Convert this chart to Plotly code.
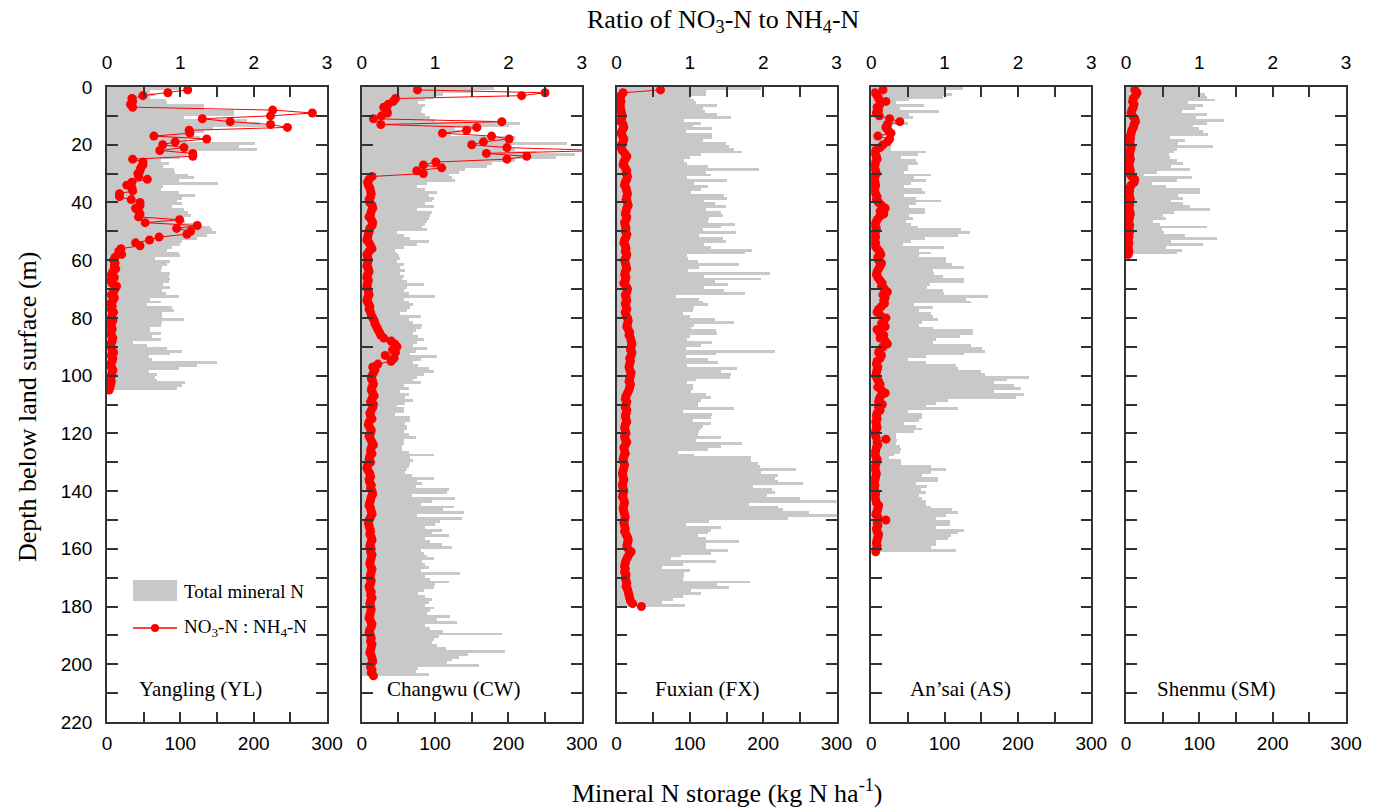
import numpy as np
import plotly.graph_objects as go

# ---------------- data ----------------
site_names = ["Yangling (YL)", "Changwu (CW)", "Fuxian (FX)", "An\u2019sai (AS)", "Shenmu (SM)"]

# Total mineral N storage per 1-m layer (kg N ha-1), layer 0 = 0-1 m
yl_storage = [98,59,66,59,80,82,132,132,173,173,
              105,191,209,218,145,132,114,127,109,202,
              180,205,120,109,100,73,84,77,91,93,
              111,118,98,152,77,73,98,120,102,95,
              102,89,105,111,114,100,107,118,141,143,
              148,136,123,102,100,89,82,98,100,66,
              86,82,75,73,86,84,86,84,77,86,
              75,80,98,59,73,55,89,91,75,75,
              105,75,73,59,59,73,61,73,36,55,
              82,102,86,57,61,150,123,98,57,68,
              66,68,107,102,95]

cw_storage = [180,150,111,98,86,77,86,82,80,86,
              93,100,216,200,127,141,121,209,205,280,
              205,209,239,290,264,209,177,170,141,132,
              118,123,127,89,75,86,102,91,98,95,
              86,98,75,95,93,91,89,86,82,89,
              48,57,66,91,75,57,45,48,50,52,
              48,57,52,59,52,57,55,61,84,61,
              57,64,100,57,64,70,66,61,52,80,
              64,70,82,80,73,70,77,84,75,70,
              89,73,66,102,80,70,77,91,98,84,
              75,70,80,57,64,52,64,59,70,59,
              48,57,57,45,66,66,59,61,61,57,
              64,73,57,57,55,55,64,98,66,70,
              66,64,61,59,68,98,75,82,73,118,
              116,68,127,95,80,125,111,139,75,136,
              107,100,86,109,95,118,86,93,109,123,
              80,84,89,98,82,86,91,80,134,86,
              93,118,100,98,84,77,86,95,91,86,
              98,93,89,120,102,130,86,93,111,191,
              105,98,95,102,114,195,145,132,123,116,
              159,77,73,91]

fx_storage = [196,121,121,101,105,108,137,117,120,137,
              155,92,115,103,130,94,130,130,117,149,
              153,160,171,115,100,92,96,124,194,121,
              128,96,150,105,124,115,101,146,150,119,
              133,149,121,142,144,126,124,161,142,117,
              162,112,144,149,119,128,184,174,96,97,
              110,167,112,97,208,119,196,133,151,119,
              146,174,80,112,117,124,105,104,90,100,
              133,159,105,101,135,136,99,96,130,115,
              94,215,135,94,124,138,95,164,142,155,
              154,108,96,104,104,101,121,128,115,110,
              110,160,90,130,128,103,128,117,115,112,
              110,142,108,171,142,124,83,105,183,183,
              192,195,244,196,219,215,219,253,185,212,
              215,205,249,300,180,219,226,262,300,233,
              126,94,142,128,124,110,121,167,121,121,
              151,128,87,74,135,90,62,99,92,92,
              90,182,137,153,101,115,90,76,62,93]

as_storage = [125,100,110,98,52,34,72,39,93,52,
              57,43,50,30,23,27,27,18,16,16,
              27,27,75,64,41,61,64,50,50,45,
              82,59,75,55,45,70,73,45,61,95,
              61,52,73,73,52,57,48,55,64,123,
              135,118,73,55,43,100,66,82,66,102,
              102,110,127,84,86,98,127,127,80,77,
              98,100,160,130,136,59,85,65,82,84,
              92,70,66,85,139,139,122,89,84,136,
              152,155,127,75,50,75,116,118,150,155,
              216,186,168,195,205,168,209,198,105,89,
              75,118,50,70,70,66,45,61,70,59,
              34,34,36,34,39,41,39,32,25,41,
              41,82,102,82,70,91,91,61,77,68,
              75,66,70,75,75,82,111,119,102,89,
              108,108,89,127,118,109,105,89,89,82,
              116]

sm_storage = [101,101,108,110,121,85,105,94,76,110,
              96,133,110,92,99,105,112,60,80,71,
              119,69,65,58,60,70,78,62,87,42,
              24,90,70,35,55,101,101,71,78,62,
              78,87,115,65,51,55,37,46,110,49,
              52,80,124,62,105,55,76,70]

# NO3-N : NH4-N ratio, one value per metre starting at 1 m depth
yl_ratio = [1.10,0.83,0.49,0.34,0.35,0.32,0.35,2.26,2.80,2.23,
            1.30,1.68,2.23,2.46,1.12,1.13,0.64,1.36,0.93,0.76,
            1.05,0.72,1.17,1.17,
            0.35,0.49,0.49,0.46,0.45,0.42,0.43,0.55,0.34,0.27,
            0.34,0.35,0.17,0.17,0.33,0.45,0.45,0.39,0.43,0.45,
            0.43,0.99,0.52,1.23,0.95,1.14,1.09,0.71,0.58,0.39,
            0.45,0.19,0.16,0.20,0.11,0.09,0.11,0.10,
            0.12,0.08,0.06,0.10,0.05,0.07,0.13,0.11,0.09,0.06,
            0.10,0.08,0.05,0.07,0.06,0.09,0.07,0.06,0.08,0.05,
            0.06,0.07,0.05,0.06,0.08,0.07,0.05,0.06,0.07,0.09,
            0.06,0.08,0.07,0.05,0.06,0.08,0.07,0.06,0.05,0.06,
            0.05,0.04,0.03]

cw_ratio = [0.76,2.50,2.18,0.46,0.43,0.36,0.30,0.34,0.35,0.27,
            0.16,1.91,0.26,1.57,1.43,1.10,1.77,2.01,1.66,1.50,
            1.98,3.30,1.70,2.25,1.98,1.01,0.84,1.09,0.75,0.84,
            0.14,
            0.10,0.08,0.09,0.11,0.12,0.13,0.12,0.10,0.11,
            0.14,0.15,0.13,0.12,0.10,0.13,0.15,0.14,0.11,0.10,
            0.09,0.08,0.07,0.10,0.12,0.14,0.10,0.07,0.08,0.09,
            0.08,0.07,0.09,0.10,0.08,0.07,0.09,0.08,0.07,0.08,
            0.09,0.10,0.08,0.07,0.09,0.11,0.10,0.12,0.13,0.15,
            0.17,0.18,0.20,0.22,0.24,0.26,0.30,0.40,0.45,0.48,
            0.42,0.46,0.32,0.44,0.40,0.22,0.15,0.18,0.16,0.14,
            0.13,0.15,0.16,0.14,0.13,0.15,0.17,0.14,0.12,0.16,
            0.15,0.13,0.11,0.12,0.14,0.10,0.09,0.11,0.13,0.12,
            0.10,0.12,0.14,0.16,0.13,0.12,0.14,0.11,0.10,0.12,
            0.08,0.07,0.09,0.11,0.12,0.10,0.11,0.13,0.12,0.14,
            0.15,0.13,0.12,0.11,0.10,0.12,0.13,0.14,0.12,0.10,
            0.09,0.10,0.11,0.12,0.11,0.13,0.14,0.12,0.11,0.13,
            0.12,0.14,0.13,0.12,0.11,0.12,0.14,0.13,0.12,0.11,
            0.13,0.12,0.10,0.11,0.13,0.12,0.14,0.12,0.11,0.12,
            0.13,0.12,0.11,0.10,0.12,0.14,0.13,0.11,0.10,0.12,
            0.13,0.12,0.14,0.13,0.12,0.11,0.13,0.14,0.15,0.13,
            0.12,0.14,0.13,0.16]

fx_ratio = [0.60,0.09,0.06,0.05,0.06,0.05,0.05,0.06,0.07,0.08,
            0.07,0.06,0.09,0.10,0.08,0.06,0.08,0.10,0.09,0.07,
            0.06,0.08,0.11,0.14,0.12,0.10,0.09,0.12,0.14,0.13,
            0.15,0.14,0.12,0.11,0.13,0.14,0.15,0.14,0.13,0.15,
            0.16,0.14,0.13,0.12,0.14,0.13,0.11,0.12,0.13,0.12,
            0.14,0.13,0.11,0.10,0.12,0.13,0.12,0.14,0.13,0.11,
            0.12,0.13,0.14,0.12,0.11,0.13,0.12,0.10,0.13,0.15,
            0.14,0.12,0.13,0.14,0.12,0.13,0.14,0.12,0.13,0.15,
            0.16,0.15,0.14,0.16,0.18,0.17,0.19,0.20,0.21,0.20,
            0.19,0.21,0.20,0.18,0.19,0.18,0.17,0.18,0.20,0.19,
            0.18,0.17,0.19,0.18,0.17,0.15,0.13,0.12,0.14,0.13,
            0.12,0.14,0.13,0.12,0.13,0.14,0.12,0.11,0.12,0.13,
            0.11,0.12,0.14,0.12,0.10,0.11,0.12,0.10,0.09,0.10,
            0.11,0.10,0.09,0.08,0.09,0.10,0.09,0.08,0.09,0.10,
            0.09,0.08,0.10,0.11,0.10,0.09,0.10,0.11,0.12,0.11,
            0.10,0.11,0.12,0.11,0.13,0.15,0.16,0.15,0.14,0.16,
            0.20,0.17,0.15,0.13,0.12,0.11,0.12,0.11,0.13,0.12,
            0.13,0.14,0.13,0.15,0.16,0.17,0.18,0.19,0.22,0.34]

as_ratio = [0.16,0.05,0.08,0.10,0.20,0.12,0.08,0.10,0.07,0.11,
            0.25,0.39,0.22,0.20,0.23,0.27,0.09,0.25,0.22,0.16,
            0.12,0.06,0.05,0.07,0.08,0.06,0.05,0.04,0.06,0.07,
            0.05,0.04,0.05,0.06,0.05,0.04,0.06,0.08,0.07,0.10,
            0.14,0.19,0.12,0.17,0.11,0.08,0.06,0.05,0.07,0.06,
            0.05,0.06,0.04,0.06,0.05,0.08,0.11,0.13,0.09,0.10,
            0.14,0.12,0.10,0.08,0.07,0.09,0.12,0.15,0.14,0.18,
            0.22,0.16,0.19,0.17,0.18,0.14,0.10,0.08,0.12,0.20,
            0.17,0.14,0.19,0.08,0.11,0.17,0.12,0.19,0.22,0.16,
            0.12,0.10,0.14,0.12,0.08,0.07,0.09,0.08,0.07,0.06,
            0.08,0.10,0.12,0.09,0.14,0.19,0.13,0.11,0.10,0.15,
            0.10,0.12,0.08,0.07,0.08,0.06,0.07,0.08,0.06,0.05,
            0.06,0.20,0.08,0.09,0.07,0.06,0.05,0.06,0.08,0.07,
            0.06,0.05,0.06,0.07,0.06,0.05,0.04,0.05,0.04,0.05,
            0.06,0.05,0.06,0.07,0.10,0.09,0.08,0.06,0.09,0.20,
            0.08,0.09,0.07,0.08,0.10,0.09,0.08,0.07,0.08,0.07,
            0.06]

sm_ratio = [0.12,0.15,0.13,0.10,0.09,0.11,0.10,0.08,0.07,0.09,
            0.12,0.13,0.11,0.10,0.08,0.07,0.06,0.06,0.05,0.06,
            0.07,0.06,0.05,0.05,0.06,0.05,0.04,0.05,0.06,0.05,
            0.08,0.12,0.11,0.07,0.05,0.05,0.04,0.05,0.06,0.05,
            0.05,0.04,0.05,0.06,0.05,0.04,0.04,0.05,0.04,0.05,
            0.04,0.04,0.03,0.04,0.03,0.03,0.04,0.03]

storage_ticks = [0, 100, 200, 300]
ratio_ticks = [0, 1, 2, 3]
depth_ticks = list(range(0, 221, 20))

# ---------------- styling / layout ----------------
W, H = 1382, 811
GREY = "#c8c8c8"
RED = "#ff0000"
FRAME = "#333333"
SANS = "Liberation Sans, Arial, sans-serif"
SERIF = "Liberation Serif, Times New Roman, serif"


def px(x):
    return x / W


def py(y):
    return 1 - y / H


TOP, BOT = 87, 722
PANEL_W = 220
PANEL_STEP = 254.75
LEFT0 = 107

storages = [yl_storage, cw_storage, fx_storage, as_storage, sm_storage]
ratios = [yl_ratio, cw_ratio, fx_ratio, as_ratio, sm_ratio]
label_offsets = [30, 23, 36, 37, 29]

fig = go.Figure()
layout = {}
annotations = []
tickfont = dict(family=SANS, size=19, color="black")

for i in range(5):
    n = i + 1
    xb_key = "xaxis" if n == 1 else f"xaxis{2*n-1}"
    xb_ref = "x" if n == 1 else f"x{2*n-1}"
    xt_key = f"xaxis{2*n}"
    xt_ref = f"x{2*n}"
    y_key = "yaxis" if n == 1 else f"yaxis{n}"
    y_ref = "y" if n == 1 else f"y{n}"

    x0 = LEFT0 + i * PANEL_STEP
    x1 = x0 + PANEL_W
    dom_x = [px(x0), px(x1)]
    dom_y = [py(BOT), py(TOP)]

    st = storages[i]
    ra = ratios[i]
    fig.add_trace(go.Bar(
        x=st, y=np.arange(len(st)) + 0.5, orientation="h", width=1.0,
        xaxis=xb_ref, yaxis=y_ref,
        marker=dict(color=GREY, line=dict(width=0)),
        showlegend=False, hoverinfo="skip"))
    fig.add_trace(go.Scatter(
        x=ra, y=np.arange(1, len(ra) + 1), xaxis=xt_ref, yaxis=y_ref,
        mode="lines+markers",
        line=dict(color=RED, width=1),
        marker=dict(color=RED, size=9),
        showlegend=False, hoverinfo="skip"))

    layout[xb_key] = dict(
        domain=dom_x, anchor=y_ref, range=[0, 300], side="bottom",
        automargin=False,
        tickmode="array", tickvals=storage_ticks,
        ticks="inside", ticklen=10, tickwidth=1.5, tickcolor=FRAME,
        minor=dict(ticks="inside", dtick=50, tick0=0, ticklen=10,
                   tickwidth=1.5, tickcolor=FRAME, showgrid=False),
        showline=True, linecolor=FRAME, linewidth=1.5, mirror=True,
        showgrid=False, zeroline=False,
        tickfont=tickfont, ticklabelstandoff=3, fixedrange=True)
    layout[xt_key] = dict(
        domain=dom_x, anchor=y_ref, overlaying=xb_ref, side="top", range=[0, 3],
        automargin=False,
        tickmode="array", tickvals=ratio_ticks,
        ticks="inside", ticklen=10, tickwidth=1.5, tickcolor=FRAME,
        minor=dict(ticks="inside", dtick=0.5, tick0=0, ticklen=10,
                   tickwidth=1.5, tickcolor=FRAME, showgrid=False),
        showline=False, showgrid=False, zeroline=False,
        tickfont=tickfont, ticklabelstandoff=13, fixedrange=True)
    layout[y_key] = dict(
        domain=dom_y, anchor=xb_ref, range=[220, 0],
        automargin=False,
        tickmode="array", tickvals=depth_ticks,
        showticklabels=(n == 1),
        ticks="inside", ticklen=11, tickwidth=1.5, tickcolor=FRAME,
        minor=dict(ticks="inside", dtick=10, tick0=0, ticklen=11,
                   tickwidth=1.5, tickcolor=FRAME, showgrid=False),
        showline=True, linecolor=FRAME, linewidth=1.5, mirror="ticks",
        showgrid=False, zeroline=False,
        tickfont=tickfont, ticklabelstandoff=9, fixedrange=True)

    annotations.append(dict(
        text=site_names[i], x=px(x0 + label_offsets[i]), y=py(689),
        xref="paper", yref="paper", xanchor="left", yanchor="middle",
        showarrow=False, font=dict(family=SERIF, size=21, color="black")))

# titles
annotations.append(dict(
    text="Ratio of NO<sub>3</sub>-N to NH<sub>4</sub>-N", x=px(724), y=py(21),
    xref="paper", yref="paper", xanchor="center", yanchor="middle",
    showarrow=False, font=dict(family=SERIF, size=26, color="black")))
annotations.append(dict(
    text="Mineral N storage (kg N ha<sup>-1</sup>)", x=px(727), y=py(791),
    xref="paper", yref="paper", xanchor="center", yanchor="middle",
    showarrow=False, font=dict(family=SERIF, size=26, color="black")))
annotations.append(dict(
    text="Depth below land surface (m)", x=px(27), y=py(407), textangle=-90,
    xref="paper", yref="paper", xanchor="center", yanchor="middle",
    showarrow=False, font=dict(family=SERIF, size=26, color="black")))

# legend (drawn manually)
annotations.append(dict(
    text="Total mineral N", x=px(182), y=py(591),
    xref="paper", yref="paper", xanchor="left", yanchor="middle",
    showarrow=False, font=dict(family=SERIF, size=19, color="black")))
annotations.append(dict(
    text="NO<sub>3</sub>-N : NH<sub>4</sub>-N", x=px(182), y=py(628),
    xref="paper", yref="paper", xanchor="left", yanchor="middle",
    showarrow=False, font=dict(family=SERIF, size=19, color="black")))

shapes = [
    dict(type="rect", xref="paper", yref="paper",
         x0=px(133), x1=px(177), y0=py(601), y1=py(580),
         fillcolor=GREY, line=dict(width=0)),
    dict(type="line", xref="paper", yref="paper",
         x0=px(133), x1=px(177), y0=py(628), y1=py(628),
         line=dict(color=RED, width=1.5)),
    dict(type="circle", xref="paper", yref="paper",
         x0=px(151), x1=px(159), y0=py(632), y1=py(624),
         fillcolor=RED, line=dict(color=RED, width=0)),
]

fig.update_layout(
    width=W, height=H,
    margin=dict(l=0, r=0, t=0, b=0, autoexpand=False),
    paper_bgcolor="white", plot_bgcolor="white",
    showlegend=False, bargap=0,
    annotations=annotations, shapes=shapes,
    **layout)

fig.write_html("out.html")
